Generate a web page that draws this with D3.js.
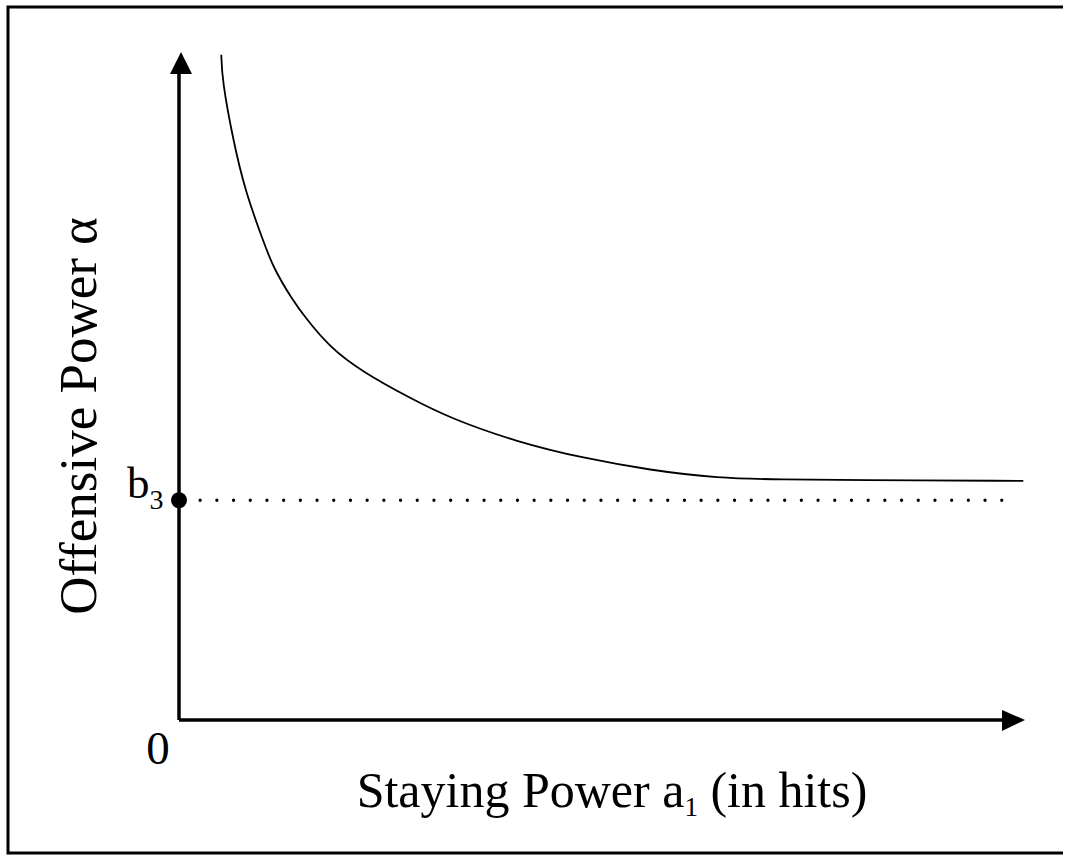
<!DOCTYPE html>
<html>
<head>
<meta charset="utf-8">
<script src="https://cdn.jsdelivr.net/npm/d3@7"></script>
<style>
  body { margin: 0; background: #fff; }
  text { font-family: "Liberation Serif", serif; fill: #000; }
</style>
</head>
<body>
<svg id="chart"></svg>
<script>
const W = 1072, H = 856

// curve (staying power a1 vs offensive power alpha, 0..100 units)
const stayingPower = [5.0, 5.1, 6.4, 7.8, 9.9, 11.1, 13.4, 14.9, 17.8, 21.7, 27.3, 32.0, 40.0, 47.8, 55.7, 63.6, 71.4, 79.3, 99.8]
const offensivePower = [99.6, 95.8, 86.8, 79.3, 71.9, 67.8, 62.9, 60.3, 55.8, 52.1, 48.2, 45.2, 41.6, 39.2, 37.4, 36.2, 36.0, 35.9, 35.8]
const b3 = 32.9
const dottedEnd = 98.6
const tickLabels = ["0"]

const svg = d3.select("#chart").attr("width", W).attr("height", H)

const x = d3.scaleLinear().domain([0, 100]).range([179, 1025])
const y = d3.scaleLinear().domain([0, 100]).range([720, 52])

// frame
svg.append("path")
  .attr("d", `M1063,7H8V853H1063`)
  .attr("fill", "none").attr("stroke", "#000").attr("stroke-width", 3)

// axes
svg.append("line")
  .attr("x1", x(0)).attr("x2", x(100) - 18)
  .attr("y1", y(0)).attr("y2", y(0))
  .attr("stroke", "#000").attr("stroke-width", 3.5)
svg.append("line")
  .attr("x1", x(0)).attr("x2", x(0))
  .attr("y1", y(0)).attr("y2", y(100) + 18)
  .attr("stroke", "#000").attr("stroke-width", 3.5)

// arrow heads
svg.append("path")
  .attr("d", `M${x(100)},${y(0)}L${x(100) - 23},${y(0) - 10}L${x(100) - 23},${y(0) + 11}Z`)
  .attr("fill", "#000")
svg.append("path")
  .attr("d", `M${x(0) + 2},${y(100)}L${x(0) - 9},${y(100) + 22}L${x(0) + 13},${y(100) + 22}Z`)
  .attr("fill", "#000")

// dotted b3 line
svg.append("line")
  .attr("x1", x(2.5)).attr("x2", x(dottedEnd))
  .attr("y1", y(b3)).attr("y2", y(b3))
  .attr("stroke", "#000").attr("stroke-width", 3.3)
  .attr("stroke-linecap", "round")
  .attr("stroke-dasharray", "0 16.7")

svg.append("circle")
  .attr("cx", x(0)).attr("cy", y(b3)).attr("r", 8)
  .attr("fill", "#000")

// the curve
const pts = stayingPower.map((a, i) => [a, offensivePower[i]])
svg.append("path")
  .datum(pts)
  .attr("d", d3.line().x(d => x(d[0])).y(d => y(d[1])).curve(d3.curveBasis))
  .attr("fill", "none").attr("stroke", "#000").attr("stroke-width", 1.8)

// labels
svg.append("text")
  .attr("x", x(0) - 21).attr("y", y(0) + 44)
  .attr("text-anchor", "middle").attr("font-size", 47)
  .text(tickLabels[0])

const bl = svg.append("text")
  .attr("x", 127).attr("y", y(b3) - 2)
  .attr("font-size", 45)
bl.append("tspan").text("b")
bl.append("tspan").attr("font-size", 28).attr("dy", 11).text("3")

const xl = svg.append("text")
  .attr("x", 612).attr("y", 807)
  .attr("text-anchor", "middle").attr("font-size", 50)
xl.append("tspan").text("Staying Power a")
xl.append("tspan").attr("font-size", 27).attr("dy", 9).text("1")
xl.append("tspan").attr("dy", -9).text(" (in hits)")

svg.append("text")
  .attr("transform", `translate(96,416) rotate(-90)`)
  .attr("text-anchor", "middle").attr("font-size", 53)
  .text("Offensive Power α")
</script>
</body>
</html>
